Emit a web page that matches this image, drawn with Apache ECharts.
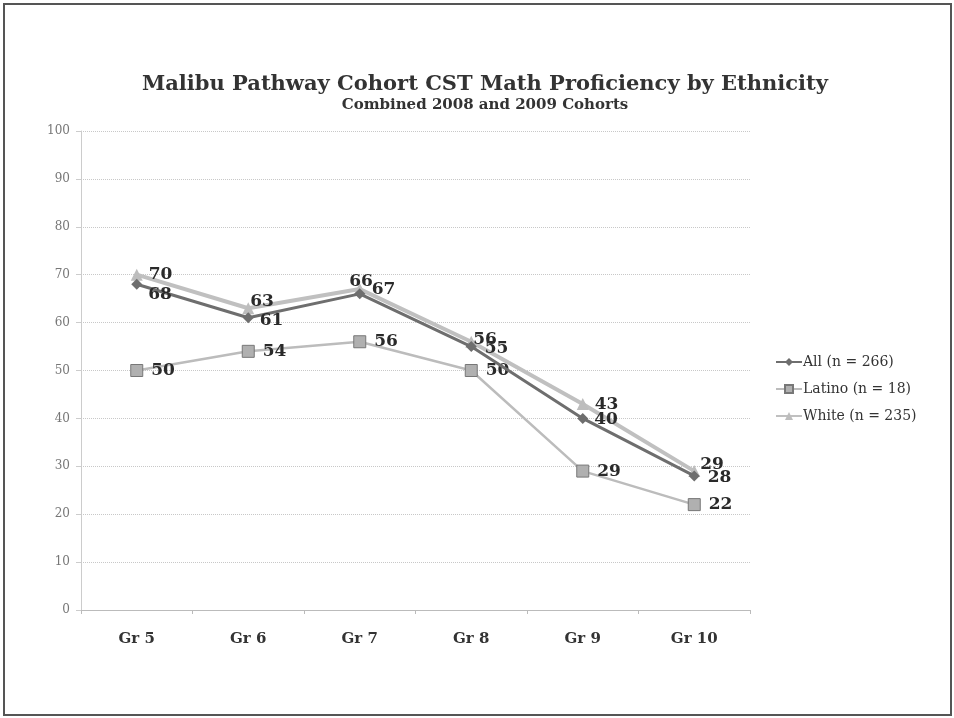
<!DOCTYPE html>
<html>
<head>
<meta charset="utf-8">
<script src="https://cdn.jsdelivr.net/npm/echarts@6/dist/echarts.min.js"></script>
<style>
  html, body { margin: 0; padding: 0; background: #ffffff; }
  #frame { position: absolute; left: 3px; top: 3px; width: 945px; height: 709px; border: 2px solid #555; box-sizing: content-box; }
  #chart { width: 954px; height: 718px; position: absolute; left: 0; top: 0; }
</style>
</head>
<body>
<div id="frame"></div>
<div id="chart"></div>
<script>
const grades = ['Gr 5', 'Gr 6', 'Gr 7', 'Gr 8', 'Gr 9', 'Gr 10'];
const allStudents = [68, 61, 66, 55, 40, 28];
const latino = [50, 54, 56, 50, 29, 22];
const white = [70, 63, 67, 56, 43, 29];
const yTicks = [0, 10, 20, 30, 40, 50, 60, 70, 80, 90, 100];

// per-point label offsets keep overlapping values readable
const allOffsets = [[0, 10], [0, 3], [-22, -12], [2, 2], [0, 1], [2, 2]];
const whiteOffsets = [[0, 0], [-10, -7], [0, 1], [-10, -2], [0, 1], [-6, -7]];
const latinoOffsets = [[0, 0], [0, 0], [0, 0], [0, 0], [0, 0], [0, 0]];

const serif = 'DejaVu Serif';
const labelStyle = { fontFamily: serif, fontWeight: 'bold', fontSize: 17, color: '#2a2a2a' };

function points(values, offsets) {
  return values.map((v, i) => ({ value: v, label: { offset: offsets[i] } }));
}

const chart = echarts.init(document.getElementById('chart'), null, { renderer: 'canvas' });
chart.setOption({
  animation: false,
  backgroundColor: 'transparent',
  title: {
    text: 'Malibu Pathway Cohort CST Math Proficiency by Ethnicity',
    subtext: 'Combined 2008 and 2009 Cohorts',
    left: 480, top: 69, textAlign: 'center', itemGap: 3,
    textStyle: { fontFamily: serif, fontWeight: 'bold', fontSize: 21, color: '#333' },
    subtextStyle: { fontFamily: serif, fontWeight: 'bold', fontSize: 15, color: '#333' }
  },
  legend: {
    orient: 'vertical', left: 770, top: 350, itemGap: 13, itemWidth: 26, itemHeight: 10,
    textStyle: { fontFamily: serif, fontSize: 14, color: '#333', padding: [0, 0, 0, -4] },
    data: ['All (n = 266)', 'Latino (n = 18)', 'White (n = 235)']
  },
  grid: { left: 81, right: 204, top: 131, bottom: 108 },
  xAxis: {
    type: 'category', data: grades, boundaryGap: true,
    axisLine: { lineStyle: { color: '#bbb' } },
    axisTick: { show: true, lineStyle: { color: '#bbb' }, length: 4 },
    axisLabel: { margin: 22, fontFamily: serif, fontWeight: 'bold', fontSize: 15, color: '#333' }
  },
  yAxis: {
    type: 'value', min: yTicks[0], max: yTicks[yTicks.length - 1], interval: yTicks[1] - yTicks[0],
    axisLine: { show: true, lineStyle: { color: '#ccc' } },
    axisTick: { show: true, length: 5, lineStyle: { color: '#ccc' } },
    axisLabel: { margin: 11, fontFamily: serif, fontSize: 12, color: '#777' },
    splitLine: { lineStyle: { color: '#c8c8c8', type: 'dotted' } }
  },
  series: [
    {
      name: 'Latino (n = 18)', type: 'line', data: points(latino, latinoOffsets),
      symbol: 'rect', symbolSize: 12,
      lineStyle: { color: '#bcbcbc', width: 2.5 },
      itemStyle: { color: '#b0b0b0', borderColor: '#777', borderWidth: 1 },
      label: Object.assign({ show: true, position: 'right', distance: 8 }, labelStyle),
      z: 2
    },
    {
      name: 'White (n = 235)', type: 'line', data: points(white, whiteOffsets),
      symbol: 'triangle', symbolSize: 12,
      lineStyle: { color: '#c0c0c0', width: 4 },
      itemStyle: { color: '#bdbdbd' },
      label: Object.assign({ show: true, position: 'right', distance: 6 }, labelStyle),
      z: 3
    },
    {
      name: 'All (n = 266)', type: 'line', data: points(allStudents, allOffsets),
      symbol: 'diamond', symbolSize: 11,
      lineStyle: { color: '#6e6e6e', width: 3 },
      itemStyle: { color: '#6e6e6e' },
      label: Object.assign({ show: true, position: 'right', distance: 6 }, labelStyle),
      z: 4
    }
  ]
});
</script>
</body>
</html>
